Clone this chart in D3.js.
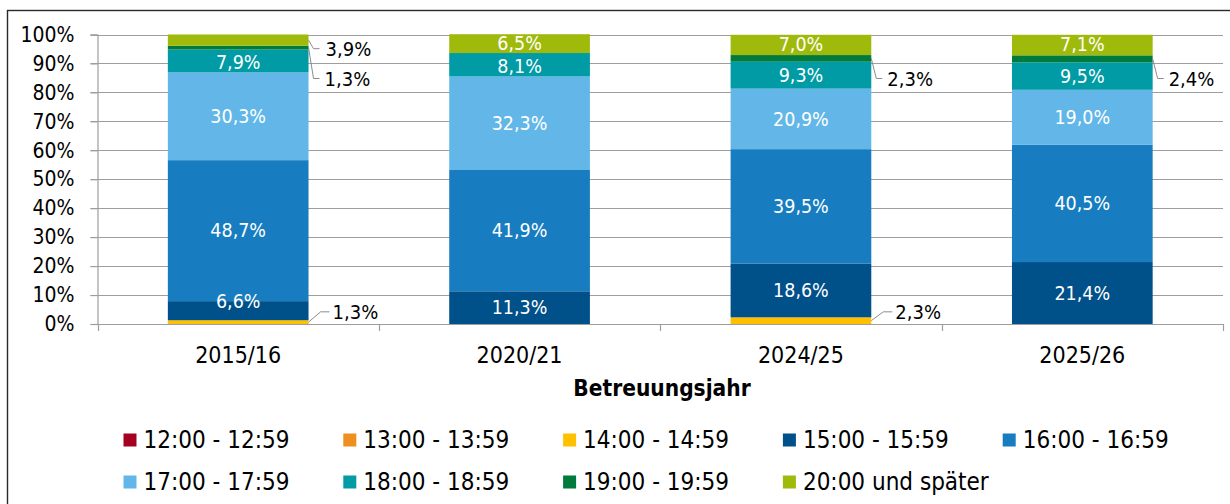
<!DOCTYPE html>
<html>
<head>
<meta charset="utf-8">
<script src="https://cdn.jsdelivr.net/npm/d3@7"></script>
<style>
  html, body { margin: 0; padding: 0; background: #fff; }
  svg { display: block; }
  text { font-family: "DejaVu Sans Condensed", "DejaVu Sans", sans-serif; font-stretch: condensed; }
</style>
</head>
<body>
<svg id="chart" width="1230" height="504"></svg>
<script>
// ---------------- data ----------------
const categories = ["2015/16", "2020/21", "2024/25", "2025/26"];
const seriesNames = ["12:00 - 12:59", "13:00 - 13:59", "14:00 - 14:59", "15:00 - 15:59",
  "16:00 - 16:59", "17:00 - 17:59", "18:00 - 18:59", "19:00 - 19:59", "20:00 und später"];
const seriesColors = ["#A50021", "#EE9020", "#FFC000", "#00508A", "#177DC0",
  "#62B7E8", "#009BA4", "#007A3D", "#A0BA0C"];
const v1200 = [0, 0, 0, 0];
const v1300 = [0, 0, 0, 0];
const v1400 = [1.3, 0, 2.3, 0];
const v1500 = [6.6, 11.3, 18.6, 21.4];
const v1600 = [48.7, 41.9, 39.5, 40.5];
const v1700 = [30.3, 32.3, 20.9, 19.0];
const v1800 = [7.9, 8.1, 9.3, 9.5];
const v1900 = [1.3, 0, 2.3, 2.4];
const v2000 = [3.9, 6.5, 7.0, 7.1];
const yTicks = [0, 10, 20, 30, 40, 50, 60, 70, 80, 90, 100];
const xTitle = "Betreuungsjahr";

const seriesValues = [v1200, v1300, v1400, v1500, v1600, v1700, v1800, v1900, v2000];
const rows = categories.map((c, i) => {
  const r = { cat: c };
  seriesNames.forEach((s, k) => { r[s] = seriesValues[k][i]; });
  return r;
});

// ---------------- layout ----------------
const svg = d3.select("#chart");
const plotL = 97.5, plotR = 1223, plotT = 34.5, plotB = 324;

const x = d3.scaleBand().domain(categories).range([plotL, plotR])
  .paddingInner(0.5).paddingOuter(0.25);
const y = d3.scaleLinear().domain([0, 100]).range([plotB, plotT]);
const color = d3.scaleOrdinal().domain(seriesNames).range(seriesColors);
const fmt = v => d3.format(".1f")(v).replace(".", ",") + "%";

// frame
svg.append("rect").attr("x", 7.5).attr("y", 10.5).attr("width", 1240).attr("height", 520)
  .attr("fill", "none").attr("stroke", "#2a2a2a").attr("stroke-width", 1.4);

// gridlines
const gridCol = "#9e9e9e";
svg.append("g").selectAll("line").data(yTicks.filter(d => d > 0)).join("line")
  .attr("x1", plotL - 7).attr("x2", plotR)
  .attr("y1", d => Math.round(y(d)) + 0.5).attr("y2", d => Math.round(y(d)) + 0.5)
  .attr("stroke", gridCol).attr("stroke-width", 1.2);

// y axis
const yAxis = d3.axisLeft(y).tickValues(yTicks).tickSize(7).tickFormat(d => d + "%");
const gy = svg.append("g").attr("transform", `translate(${plotL},0)`).call(yAxis);
gy.select(".domain").attr("stroke", gridCol).attr("stroke-width", 1.2);
gy.selectAll(".tick line").attr("stroke", gridCol).attr("stroke-width", 1.2);
gy.selectAll(".tick text").attr("x", -23).attr("font-size", 21).attr("fill", "#000")
  .attr("font-family", '"DejaVu Sans Condensed", "DejaVu Sans", sans-serif');

// x axis with ticks at band boundaries
const xTickPos = d3.range(categories.length + 1).map(i => plotL + i * x.step());
const gx = svg.append("g");
gx.append("line").attr("x1", plotL).attr("x2", plotR).attr("y1", plotB + 0.5).attr("y2", plotB + 0.5)
  .attr("stroke", gridCol).attr("stroke-width", 1.2);
gx.selectAll("line.t").data(xTickPos).join("line").attr("class", "t")
  .attr("x1", d => Math.round(d) + 0.5).attr("x2", d => Math.round(d) + 0.5)
  .attr("y1", plotB).attr("y2", plotB + 7)
  .attr("stroke", gridCol).attr("stroke-width", 1.2);
gx.selectAll("text").data(categories).join("text")
  .attr("x", d => x(d) + x.bandwidth() / 2).attr("y", 355).attr("dy", "0.35em")
  .attr("text-anchor", "middle").attr("font-size", 23).attr("fill", "#000").text(d => d);

svg.append("text").attr("x", 662).attr("y", 388).attr("dy", "0.35em")
  .attr("text-anchor", "middle").attr("font-size", 22.5).attr("font-weight", "bold")
  .attr("fill", "#000").text(xTitle);

// stacked bars
const stack = d3.stack().keys(seriesNames);
const stacked = stack(rows);
const gBars = svg.append("g");
stacked.forEach(layer => {
  gBars.append("g").attr("fill", color(layer.key))
    .selectAll("rect").data(layer.filter(d => d[1] - d[0] > 0)).join("rect")
    .attr("x", d => x(d.data.cat)).attr("width", x.bandwidth())
    .attr("y", d => y(d[1])).attr("height", d => y(d[0]) - y(d[1]));
});

// labels
const gLab = svg.append("g");
const callout = {
  "14:00 - 14:59": { at: 4.2, elbow: 12, end: 21, text: 24 },
  "19:00 - 19:59": { at: 84.8, elbow: 5, end: 11, text: 16 },
  "20:00 und später": { at: 95.1, elbow: 5, end: 11, text: 17 }
};
stacked.forEach(layer => {
  layer.forEach(d => {
    const v = d[1] - d[0];
    if (v <= 0) return;
    const cx = x(d.data.cat) + x.bandwidth() / 2;
    const right = x(d.data.cat) + x.bandwidth();
    if (v >= 5) {
      const segH = y(d[0]) - y(d[1]);
      // a short segment low in the bar gets its label on its upper edge
      let cy = (segH < 22 && d[1] < 50) ? y(d[1]) : (y(d[0]) + y(d[1])) / 2;
      if (d[1] >= 99.9) cy -= 0.5;                 // top label sits slightly high
      else if (d[1] > 90 && segH < 25) cy += 1;    // label just below it slightly low
      gLab.append("text").attr("x", cx).attr("y", cy).attr("dy", "0.35em")
        .attr("text-anchor", "middle").attr("font-size", 19.5).attr("fill", "#fff")
        .text(fmt(v));
    } else {
      const c = callout[layer.key];
      const ly = y(c.at);
      const sy = y((d[0] + d[1]) / 2);
      gLab.append("polyline")
        .attr("points", [[right, sy], [right + c.elbow, ly], [right + c.end, ly]].map(p => p.join(",")).join(" "))
        .attr("fill", "none").attr("stroke", "#8c8c8c").attr("stroke-width", 1);
      gLab.append("text").attr("x", right + c.text).attr("y", ly).attr("dy", "0.35em")
        .attr("font-size", 20).attr("fill", "#000").text(fmt(v));
    }
  });
});

// legend
const legRows = [seriesNames.slice(0, 5), seriesNames.slice(5)];
const legX0 = 123.5, legStep = 219.8, legY = [440, 482];
legRows.forEach((names, r) => {
  const g = svg.append("g");
  names.forEach((n, i) => {
    const lx = legX0 + i * legStep;
    g.append("rect").attr("x", lx).attr("y", legY[r] - 6.5).attr("width", 13).attr("height", 13)
      .attr("fill", color(n));
    g.append("text").attr("x", lx + 20).attr("y", legY[r]).attr("dy", "0.35em")
      .attr("font-size", 24).attr("fill", "#000").text(n);
  });
});
</script>
</body>
</html>
